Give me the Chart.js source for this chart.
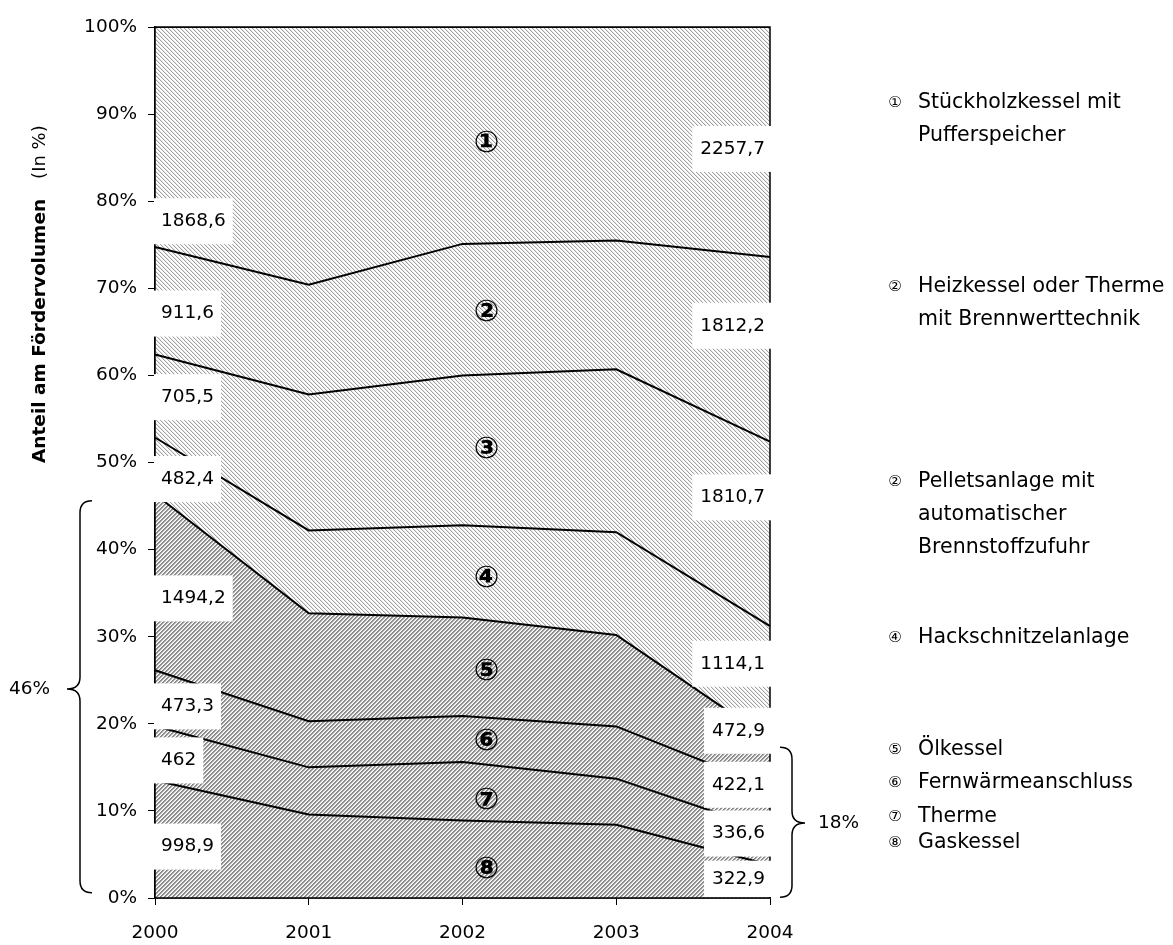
<!DOCTYPE html>
<html>
<head>
<meta charset="utf-8">
<script src="https://cdn.jsdelivr.net/npm/chart.js@4.4.1/dist/chart.umd.min.js"></script>
<style>
  html, body { margin: 0; padding: 0; background: #fff; }
</style>
</head>
<body>
<canvas id="area-chart" width="1173" height="945"></canvas>
<script>
const years = ['2000', '2001', '2002', '2003', '2004'];

// share of each type in % per year (top band first)
const stueckholz    = [25.26, 29.6, 24.9, 24.5, 26.40];
const brennwert     = [12.33, 12.6, 15.1, 14.8, 21.20];
const pellets       = [ 9.54, 15.6, 17.2, 18.7, 21.18];
const hackschnitzel = [ 6.52,  9.5, 10.6, 11.8, 13.03];
const oelkessel     = [20.20, 12.4, 11.3, 10.5,  5.53];
const fernwaerme    = [ 6.40,  5.3,  5.3,  6.0,  4.94];
const therme        = [ 6.25,  5.4,  6.7,  5.3,  3.94];
const gaskessel     = [13.50,  9.6,  8.9,  8.4,  3.78];

// absolute values printed at the edges (top band first)
const values2000 = ['1868,6', '911,6', '705,5', '482,4', '1494,2', '473,3', '462', '998,9'];
const values2004 = ['2257,7', '1812,2', '1810,7', '1114,1', '472,9', '422,1', '336,6', '322,9'];

const marks = ['\u2460', '\u2461', '\u2462', '\u2463', '\u2464', '\u2465', '\u2466', '\u2467'];
const legendMarks = ['\u2460', '\u2461', '\u2461', '\u2463', '\u2464', '\u2465', '\u2466', '\u2467'];
const legendTexts = [
  ['Stückholzkessel mit', 'Pufferspeicher'],
  ['Heizkessel oder Therme', 'mit Brennwerttechnik'],
  ['Pelletsanlage mit', 'automatischer', 'Brennstoffzufuhr'],
  ['Hackschnitzelanlage'],
  ['Ölkessel'],
  ['Fernwärmeanschluss'],
  ['Therme'],
  ['Gaskessel']
];

const FONT = '"DejaVu Sans", "Noto Sans CJK JP", sans-serif';

// hatch fills
function hatch(up, shades) {
  const c = document.createElement('canvas');
  c.width = 8; c.height = 8;
  const g = c.getContext('2d');
  const img = g.createImageData(8, 8);
  for (let y = 0; y < 8; y++) {
    for (let x = 0; x < 8; x++) {
      const k = up ? (x + y) % 4 : ((x - y) % 4 + 4) % 4;
      const v = shades[k];
      const i = (y * 8 + x) * 4;
      img.data[i] = v; img.data[i + 1] = v; img.data[i + 2] = v; img.data[i + 3] = 255;
    }
  }
  g.putImageData(img, 0, 0);
  return g.createPattern(c, 'repeat');
}
const light = hatch(false, [160, 232, 255, 255]);
const dark = hatch(true, [135, 150, 220, 255]);

// bottom band first for stacking
const bands = [gaskessel, therme, fernwaerme, oelkessel, hackschnitzel, pellets, brennwert, stueckholz];

const extras = {
  id: 'extras',
  afterDatasetsDraw(chart) {
    const { ctx, chartArea: a } = chart;
    ctx.save();
    ctx.strokeStyle = '#000';
    ctx.lineWidth = 1.5;
    ctx.strokeRect(a.left, a.top, a.right - a.left, a.bottom - a.top);
    ctx.restore();
  },
  afterDraw(chart) {
    const { ctx, chartArea: a, scales } = chart;
    const x = scales.x, y = scales.y;
    ctx.save();
    ctx.fillStyle = '#000';
    ctx.textBaseline = 'middle';

    // value boxes
    const leftPos = [77.7, 67.1, 57.5, 48.1, 34.4, 22.0, 15.8, 5.9];
    const rightPos = [86.0, 65.7, 46.0, 26.9, 19.2, 13.0, 7.4, 2.2];
    ctx.font = '18.5px ' + FONT;
    values2000.forEach((t, i) => {
      const w = ctx.measureText(t).width + 14;
      const yc = y.getPixelForValue(leftPos[i]);
      ctx.fillStyle = '#fff';
      ctx.fillRect(a.left - 1, yc - 23, w, 46);
      ctx.fillStyle = '#000';
      ctx.textAlign = 'left';
      ctx.fillText(t, a.left + 6, yc);
    });
    values2004.forEach((t, i) => {
      const w = ctx.measureText(t).width + 14;
      const yc = y.getPixelForValue(rightPos[i]);
      const h = Math.min(46, (a.bottom - 1 - yc) * 2);
      ctx.fillStyle = '#fff';
      ctx.fillRect(a.right + 1 - w, yc - h / 2, w, h);
      ctx.fillStyle = '#000';
      ctx.textAlign = 'right';
      ctx.fillText(t, a.right - 5, yc);
    });

    // circled numbers in the bands
    const markPos = [86.6, 67.1, 51.4, 36.6, 25.9, 17.9, 11.1, 3.2];
    ctx.font = 'bold 30px ' + FONT;
    ctx.textAlign = 'center';
    marks.forEach((m, i) => {
      ctx.fillText(m, x.getPixelForValue(2) + 24, y.getPixelForValue(markPos[i]));
    });

    // legend on the right
    const legendY = [103, 287, 482, 638, 750, 783, 817, 843];
    legendTexts.forEach((lines, i) => {
      ctx.font = '15px ' + FONT;
      ctx.textAlign = 'center';
      ctx.fillText(legendMarks[i], 895, legendY[i]);
      ctx.font = '20.5px ' + FONT;
      ctx.textAlign = 'left';
      lines.forEach((l, j) => ctx.fillText(l, 918, legendY[i] + j * 33));
    });

    // braces
    function brace(sx, tip, ends, top, mid, bot) {
      const r = 12;
      ctx.beginPath();
      ctx.moveTo(ends, top);
      ctx.quadraticCurveTo(sx, top, sx, top + r);
      ctx.lineTo(sx, mid - r);
      ctx.quadraticCurveTo(sx, mid, tip, mid);
      ctx.quadraticCurveTo(sx, mid, sx, mid + r);
      ctx.lineTo(sx, bot - r);
      ctx.quadraticCurveTo(sx, bot, ends, bot);
      ctx.stroke();
    }
    ctx.strokeStyle = '#000';
    ctx.lineWidth = 1.5;
    brace(80, 67, 92, y.getPixelForValue(45.6), y.getPixelForValue(24), y.getPixelForValue(0.6));
    brace(792, 805, 780, y.getPixelForValue(17.3), y.getPixelForValue(8.6), y.getPixelForValue(0.1));
    ctx.font = '18.5px ' + FONT;
    ctx.textAlign = 'right';
    ctx.fillText('46%', 50, y.getPixelForValue(24));
    ctx.textAlign = 'left';
    ctx.fillText('18%', 818, y.getPixelForValue(8.6));

    // y axis title
    ctx.translate(40, 463);
    ctx.rotate(-Math.PI / 2);
    ctx.textAlign = 'left';
    ctx.font = 'bold 18.5px ' + FONT;
    const t1 = 'Anteil am Fördervolumen';
    ctx.fillText(t1, 0, 0);
    const w1 = ctx.measureText(t1).width;
    ctx.font = '18px ' + FONT;
    ctx.fillText('(In %)', w1 + 20, 0);
    ctx.restore();
  }
};

new Chart(document.getElementById('area-chart'), {
  type: 'line',
  data: {
    labels: years,
    datasets: bands.map((d, i) => ({
      data: d,
      fill: i === 0 ? 'origin' : '-1',
      backgroundColor: i < 4 ? dark : light,
      borderColor: '#000',
      borderWidth: 2,
      pointRadius: 0,
      tension: 0
    }))
  },
  options: {
    responsive: false,
    animation: false,
    layout: { padding: { top: 27, right: 403, bottom: 0, left: 0 } },
    plugins: { legend: { display: false }, tooltip: { enabled: false } },
    scales: {
      x: {
        offset: false,
        grid: { drawOnChartArea: false, tickLength: 7, color: '#000' },
        border: { color: '#000', width: 1.5 },
        ticks: { color: '#000', font: { family: FONT, size: 18.5 }, padding: 17, maxRotation: 0 },
        afterFit: s => { s.height = 47; }
      },
      y: {
        stacked: true,
        min: 0,
        max: 100,
        grid: { drawOnChartArea: false, tickLength: 7, color: '#000' },
        border: { color: '#000', width: 1.5 },
        ticks: { stepSize: 10, color: '#000', font: { family: FONT, size: 18.5 }, padding: 11, callback: v => v + '%' },
        afterFit: s => { s.width = 155; }
      }
    }
  },
  plugins: [extras]
});
</script>
</body>
</html>
